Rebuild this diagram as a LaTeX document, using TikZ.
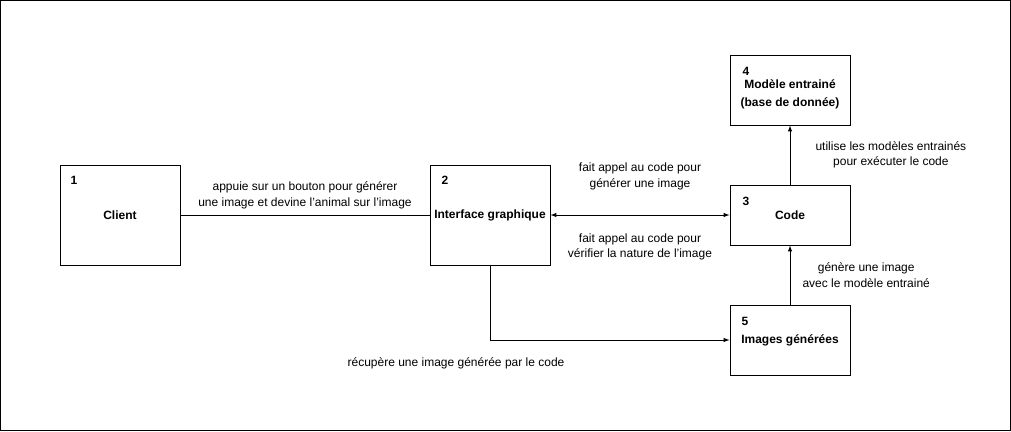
\documentclass[tikz,border=0pt]{standalone}
\usepackage{fontspec}
\setmainfont{Liberation Sans}
\usepackage{pgf, tikz}
\usepackage{xcolor}

\tikzset{
boite/.style={draw, line width=1pt, minimum width=120pt, inner sep=0pt, align=center, font=\fontsize{12}{18}\selectfont\bfseries},
numero/.style={inner sep=0pt, font=\fontsize{12}{14}\selectfont\bfseries},
legende/.style={inner sep=0pt, align=center, font=\fontsize{12}{15.5}\selectfont}
}

\begin{document}
\begin{tikzpicture}[x=1pt, y=-1pt, line width=1pt]
\useasboundingbox (0,0) rectangle (1011,431);
\draw (0.5,0.5) rectangle (1010.5,430.5);
% les cinq blocs
\node[boite, minimum height=100pt] (1) at (120,215) {Client};
\node[boite, minimum height=100pt] (2) at (490,215) {Interface graphique};
\node[boite, minimum height=60pt] (3) at (790,215) {Code};
\node[boite, minimum height=70pt, text height=35pt] (4) at (790,90) {Modèle entrainé\\(base de donnée)};
\node[boite, minimum height=70pt] (5) at (790,340) {Images générées};
\node[numero] (n1) at (74,180) {1};
\node[numero] (n2) at (445,180) {2};
\node[numero] (n3) at (746,201) {3};
\node[numero] (n4) at (746,71) {4};
\node[numero] (n5) at (745,321) {5};
% liaisons
\draw [-,>=latex,](1)--(2) node[legende, midway, above=6pt]{appuie sur un bouton pour générer\\une image et devine l'animal sur l'image};
\draw [<->,>=latex,](2)--(3) node[legende, midway, above=25pt]{fait appel au code pour\\générer une image} node[legende, midway, below=18pt]{fait appel au code pour\\vérifier la nature de l'image};
\draw [->,>=latex,](3)--(4) node[legende, midway, right=25pt]{utilise les modèles entrainés\\pour exécuter le code};
\draw [->,>=latex,](5)--(3) node[legende, midway, right=12pt]{génère une image\\avec le modèle entrainé};
\draw [->,>=latex,](2)|-(5) node[legende, pos=0.5, below=17pt, xshift=-34pt]{récupère une image générée par le code};
\end{tikzpicture}
\end{document}
